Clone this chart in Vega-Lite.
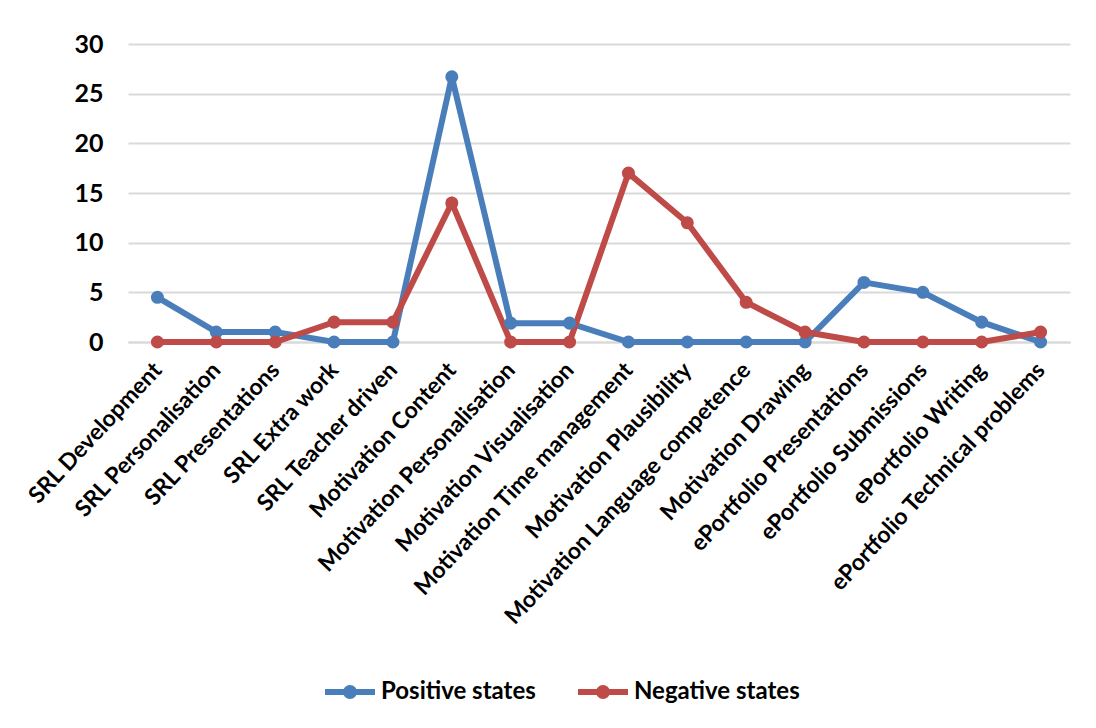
{
  "$schema": "https://vega.github.io/schema/vega-lite/v6.json",
  "autosize": "none",
  "width": 942,
  "height": 298,
  "padding": {"left": 128, "top": 44, "right": 26, "bottom": 386},
  "background": "white",
  "data": {
    "values": [
      {"category": "SRL Development", "series": "Positive states", "value": 4.5},
      {"category": "SRL Personalisation", "series": "Positive states", "value": 1},
      {"category": "SRL Presentations", "series": "Positive states", "value": 1},
      {"category": "SRL Extra work", "series": "Positive states", "value": 0},
      {"category": "SRL Teacher driven", "series": "Positive states", "value": 0},
      {"category": "Motivation Content", "series": "Positive states", "value": 26.7},
      {"category": "Motivation Personalisation", "series": "Positive states", "value": 1.9},
      {"category": "Motivation Visualisation", "series": "Positive states", "value": 1.9},
      {"category": "Motivation Time management", "series": "Positive states", "value": 0},
      {"category": "Motivation Plausibility", "series": "Positive states", "value": 0},
      {"category": "Motivation Language competence", "series": "Positive states", "value": 0},
      {"category": "Motivation Drawing", "series": "Positive states", "value": 0},
      {"category": "ePortfolio Presentations", "series": "Positive states", "value": 6},
      {"category": "ePortfolio Submissions", "series": "Positive states", "value": 5},
      {"category": "ePortfolio Writing", "series": "Positive states", "value": 2},
      {"category": "ePortfolio Technical problems", "series": "Positive states", "value": 0},
      {"category": "SRL Development", "series": "Negative states", "value": 0},
      {"category": "SRL Personalisation", "series": "Negative states", "value": 0},
      {"category": "SRL Presentations", "series": "Negative states", "value": 0},
      {"category": "SRL Extra work", "series": "Negative states", "value": 2},
      {"category": "SRL Teacher driven", "series": "Negative states", "value": 2},
      {"category": "Motivation Content", "series": "Negative states", "value": 14},
      {"category": "Motivation Personalisation", "series": "Negative states", "value": 0},
      {"category": "Motivation Visualisation", "series": "Negative states", "value": 0},
      {"category": "Motivation Time management", "series": "Negative states", "value": 17},
      {"category": "Motivation Plausibility", "series": "Negative states", "value": 12},
      {"category": "Motivation Language competence", "series": "Negative states", "value": 4},
      {"category": "Motivation Drawing", "series": "Negative states", "value": 1},
      {"category": "ePortfolio Presentations", "series": "Negative states", "value": 0},
      {"category": "ePortfolio Submissions", "series": "Negative states", "value": 0},
      {"category": "ePortfolio Writing", "series": "Negative states", "value": 0},
      {"category": "ePortfolio Technical problems", "series": "Negative states", "value": 1}
    ]
  },
  "encoding": {
    "x": {
      "field": "category",
      "type": "nominal",
      "sort": null,
      "title": null,
      "axis": {
        "labelAngle": -47,
        "labelAlign": "right",
        "labelBaseline": "middle",
        "labelFont": "Lato",
        "labelFontWeight": "bold",
        "labelFontSize": 23,
        "labelColor": "#000000",
        "labelPadding": 24,
        "labelLimit": 400,
        "ticks": false,
        "domainColor": "#D9D9D9",
        "domainWidth": 2,
        "grid": false
      }
    },
    "y": {
      "field": "value",
      "type": "quantitative",
      "title": null,
      "scale": {"domain": [0, 30], "nice": false},
      "axis": {
        "values": [0, 5, 10, 15, 20, 25, 30],
        "labelFont": "Lato",
        "labelFontWeight": "bold",
        "labelFontSize": 25,
        "labelColor": "#000000",
        "labelPadding": 25,
        "domain": false,
        "ticks": false,
        "gridColor": "#D9D9D9",
        "gridWidth": 2
      }
    },
    "color": {
      "field": "series",
      "type": "nominal",
      "sort": ["Positive states", "Negative states"],
      "scale": {"domain": ["Positive states", "Negative states"], "range": ["#4A7EBB", "#BE4B48"]},
      "legend": {
        "title": null,
        "orient": "none",
        "direction": "horizontal",
        "legendX": 194,
        "legendY": 620,
        "symbolType": "M-1,0H1M0.16,0A0.16,0.16 0 1,1 -0.16,0A0.16,0.16 0 1,1 0.16,0",
        "symbolSize": 2500,
        "symbolStrokeWidth": 6,
        "labelFont": "Lato",
        "labelFontWeight": "bold",
        "labelFontSize": 24,
        "labelColor": "#000000",
        "labelLimit": 300,
        "labelOffset": 3,
        "columnPadding": 30
      }
    }
  },
  "layer": [
    {"mark": {"type": "line", "strokeWidth": 6}},
    {"mark": {"type": "point", "filled": true, "opacity": 1, "size": 170}}
  ],
  "config": {"view": {"stroke": null}}
}
